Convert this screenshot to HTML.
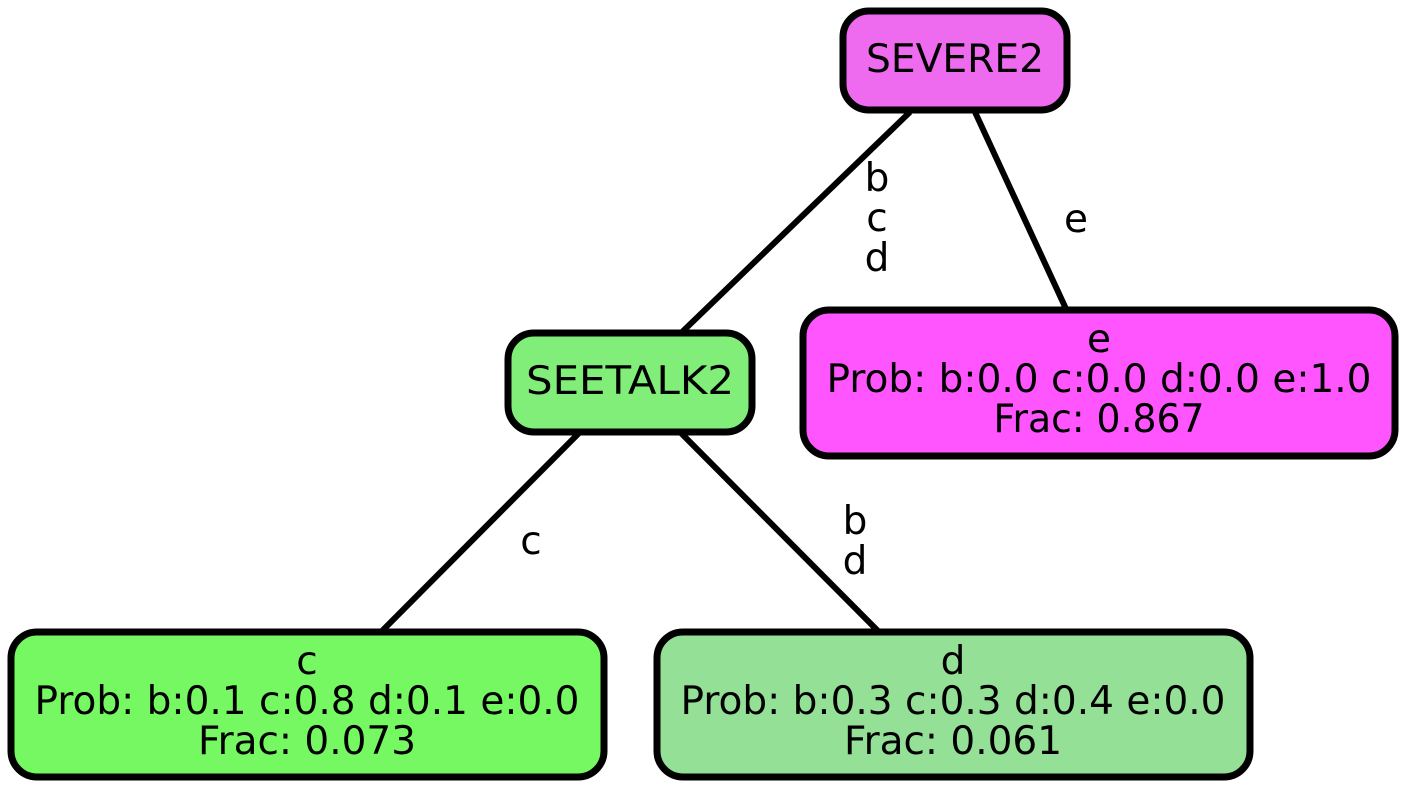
<!DOCTYPE html>
<html><head><meta charset="utf-8"><style>html,body{margin:0;padding:0;background:#fff}</style></head>
<body>
<svg width="1408" height="792" viewBox="0 0 1408 792" xmlns="http://www.w3.org/2000/svg" font-family="'DejaVu Sans', sans-serif" font-size="31" text-anchor="middle">
<g stroke="#000" stroke-width="6" fill="none">
<line x1="910" y1="112" x2="680" y2="334"/>
<line x1="975" y1="112" x2="1067" y2="311"/>
<line x1="580" y1="432" x2="380" y2="633"/>
<line x1="680" y1="432" x2="880" y2="633"/>
</g>
<g stroke="#000" stroke-width="7">
<rect x="843" y="11" width="224" height="99" rx="26" fill="#ee6aee"/>
<rect x="508" y="333" width="244" height="99" rx="26" fill="#80ee78"/>
<rect x="803" y="310" width="592" height="146" rx="26" fill="#ff55ff"/>
<rect x="11" y="632" width="593" height="145" rx="26" fill="#76f863"/>
<rect x="657" y="632" width="593" height="145" rx="26" fill="#94e096"/>
</g>
<g fill="#000" style="font-size:39px">
<text x="955" y="72" textLength="178" lengthAdjust="spacingAndGlyphs">SEVERE2</text>
<text x="630" y="394" textLength="208" lengthAdjust="spacingAndGlyphs">SEETALK2</text>
<text x="1099" y="352">e</text>
<text x="1099" y="392" textLength="545" lengthAdjust="spacingAndGlyphs">Prob: b:0.0 c:0.0 d:0.0 e:1.0</text>
<text x="1099" y="432" textLength="211" lengthAdjust="spacingAndGlyphs">Frac: 0.867</text>
<text x="307" y="674">c</text>
<text x="307" y="714" textLength="545" lengthAdjust="spacingAndGlyphs">Prob: b:0.1 c:0.8 d:0.1 e:0.0</text>
<text x="307" y="754" textLength="218" lengthAdjust="spacingAndGlyphs">Frac: 0.073</text>
<text x="953" y="674">d</text>
<text x="953" y="714" textLength="545" lengthAdjust="spacingAndGlyphs">Prob: b:0.3 c:0.3 d:0.4 e:0.0</text>
<text x="953" y="754" textLength="218" lengthAdjust="spacingAndGlyphs">Frac: 0.061</text>
<text x="877" y="191">b</text>
<text x="877" y="231">c</text>
<text x="877" y="271">d</text>
<text x="1076" y="232">e</text>
<text x="531" y="554">c</text>
<text x="855" y="534">b</text>
<text x="855" y="574">d</text>
</g>
</svg>
</body></html>
